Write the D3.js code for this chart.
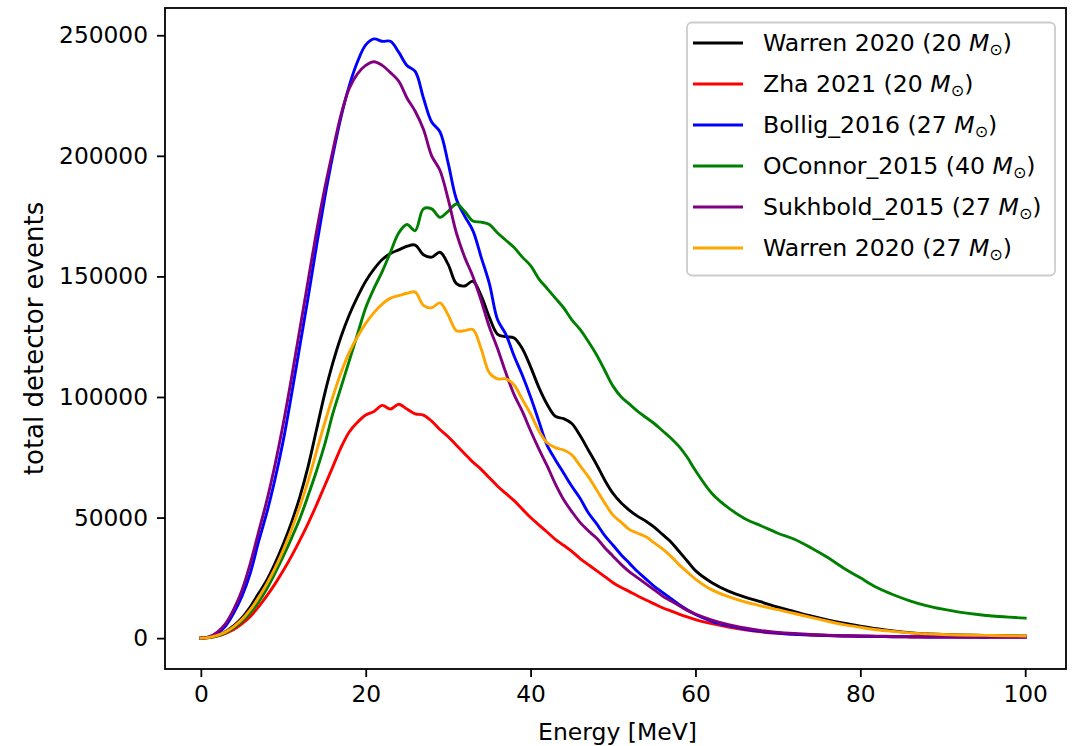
<!DOCTYPE html>
<html><head><meta charset="utf-8">
<script src="https://cdn.jsdelivr.net/npm/d3@7"></script>
<style>
body{margin:0;background:#fff;}
text{font-family:"DejaVu Sans",sans-serif;fill:#000;}
</style>
</head><body>
<svg id="chart" width="1076" height="746"></svg>
<script>
// Energy grid [MeV]
const energy = [0,1,2,3,4,5,6,7,8,9,10,11,12,13,14,15,16,17,18,19,20,21,22,23,24,25,26,27,28,29,30,
  31,32,33,34,35,36,37,38,39,40,41,42,43,44,45,46,47,48,49,50,51,52,53,54,55,56,57,58,59,60,
  62,64,66,68,70,72,74,76,78,80,82,84,86,88,90,92,94,96,98,100];

// total detector events, in thousands
const warren20 = [0,0.3,1.2,2.8,5.2,8.5,13,18.5,24,31,39,48,58.5,71,86,101,114,125,134,141.5,148,153,157,159.5,161,162.5,163,159,158,160,155,
  147,146,148,142,133,126,125,124.5,120,112.5,104,97,92,91,89,84,78,72,65.5,60,56,53,50.5,48.5,46,43,40,36,32,28,
  23,19.5,17,15,12.8,11,9.2,7.6,6.2,5,3.9,3,2.3,1.8,1.5,1.3,1.2,1.1,1,0.9];
const zha2021 = [0,0.2,0.8,2,3.6,6,9,13,17.5,22.5,28,34,40.5,47.5,55,63,71,79,85.5,89.5,92.5,94,96.5,95,97,95,93,92.5,90,86.5,83.5,
  80,76.5,73,70,66.5,63,60,57,53.5,50,47,44,41,38.5,36,33,30.5,28,25.5,23,21,19.3,17.5,15.8,14.2,12.6,11.3,10,8.8,7.7,
  6,4.6,3.5,2.6,2,1.6,1.3,1.1,0.9,0.8,0.7,0.6,0.5,0.5,0.45,0.4,0.4,0.4,0.4,0.4];
const bollig2016 = [0,0.5,2,5,10.5,17.5,27,40,52,66,82,101,121,141,162,182,200,216,229,239,246,248.5,247.5,247.5,243,237.5,235,224,214,210,197,
  182,175,169,158,147,132,126,117,109,100,90,80,74,68.5,63,58,52,47.5,42.5,38.5,34.5,31,27.5,24.5,21.5,19,16.5,14,11.8,9.8,
  7,5.2,3.8,2.8,2.1,1.6,1.3,1.1,0.9,0.8,0.7,0.6,0.55,0.5,0.5,0.45,0.4,0.4,0.4,0.4];
const oconnor2015 = [0,0.2,0.9,2.3,4.3,7,10.5,15,20.5,27,34,41.5,49.5,59,69,80,93,104,115,126,137,145,152,160,168,171.5,169,178,178,174.5,177,
  180,177,173,172.5,171.5,168,165,162,158,154.5,149,145,141,137,132,128,123,117.5,111,104.5,100,97,94,91.5,89,86,83,79.5,75,69.5,
  60,54,49.5,46.5,43.5,41,37.5,33.5,29,25,21,18,15.5,13.5,12,10.8,9.9,9.2,8.7,8.3];
const sukhbold2015 = [0,0.5,2.5,6,12,20,31,44,57,72,89,108,128,148,168,186,202,217,228,234,237.5,239,237.5,234.5,231,224,218.5,211,200,194,182,
  168,158,150,140,129,120,110,101,94,86,78.5,71.5,64,57.5,52.5,48,44.5,41.5,37.5,34,30.5,27.5,25,22.5,20,17.5,15.5,13.5,11.5,10,
  7.5,5.6,4.2,3.1,2.4,1.9,1.5,1.2,1,0.9,0.8,0.7,0.6,0.6,0.55,0.5,0.5,0.5,0.5,0.5];
const warren27 = [0,0.3,1.1,2.6,4.8,7.8,11.8,16.8,22.5,29,36.5,45,54.5,65,77,89,100,110,118.5,125,130.5,135,138.5,141,142,143,143.5,138,137,139,134,
  127.5,127.5,128,120,110,107.5,107.5,105,99,93,86,81,79,78,76,71.5,67,61.5,56,51,48,45,43.5,42,39.5,37,34,30.5,27.5,24.5,
  20,17.2,15,13.3,11.8,10.2,8.6,7,5.6,4.5,3.5,2.8,2.2,1.8,1.5,1.3,1.2,1.1,1,0.9];

const seriesValues = [warren20, zha2021, bollig2016, oconnor2015, sukhbold2015, warren27];
const seriesNames = ["Warren 2020 (20 ", "Zha 2021 (20 ", "Bollig_2016 (27 ", "OConnor_2015 (40 ", "Sukhbold_2015 (27 ", "Warren 2020 (27 "];
const seriesColors = ["#000000", "#ff0000", "#0000ff", "#008000", "#800080", "#ffa500"];

const xTicks = [0, 20, 40, 60, 80, 100];
const yTicks = [0, 50000, 100000, 150000, 200000, 250000];
const xLabel = "Energy [MeV]";
const yLabel = "total detector events";

const svg = d3.select("#chart");
const L = 165, R = 1066, T = 8, B = 669;
const x = d3.scaleLinear().domain([-4.35, 104.95]).range([L, R]);
const y = d3.scaleLinear().domain([-12800, 261300]).range([B, T]);

svg.append("rect").attr("width", 1076).attr("height", 746).attr("fill", "#fff");

// lines
const line = d3.line()
  .x((d, i) => x(energy[i]))
  .y(d => y(d * 1000))
  .curve(d3.curveCatmullRom.alpha(0.5));

seriesValues.forEach((vals, k) => {
  svg.append("path")
    .datum(vals)
    .attr("d", line)
    .attr("fill", "none")
    .attr("stroke", seriesColors[k])
    .attr("stroke-width", 2.9)
    .attr("stroke-linejoin", "round")
    .attr("stroke-linecap", "square");
});

// axes
const xAxis = svg.append("g").attr("transform", `translate(0,${B})`)
  .call(d3.axisBottom(x).tickValues(xTicks).tickFormat(d3.format("d")).tickSize(8).tickPadding(8));
const yAxis = svg.append("g").attr("transform", `translate(${L},0)`)
  .call(d3.axisLeft(y).tickValues(yTicks).tickFormat(d3.format("d")).tickSize(8).tickPadding(9));
[xAxis, yAxis].forEach(g => {
  g.select(".domain").remove();
  g.selectAll(".tick line").attr("stroke", "#000").attr("stroke-width", 1.8);
  g.selectAll(".tick text").attr("font-size", 23.3).attr("font-family", "DejaVu Sans").attr("fill", "#000");
});

// frame
svg.append("rect").attr("x", L).attr("y", T).attr("width", R - L).attr("height", B - T)
  .attr("fill", "none").attr("stroke", "#000").attr("stroke-width", 1.8);

// axis labels
svg.append("text").attr("x", (L + R) / 2 + 2).attr("y", 740).attr("text-anchor", "middle")
  .attr("font-size", 23.5).text(xLabel);
svg.append("text").attr("transform", `translate(43,${(T + B) / 2}) rotate(-90)`)
  .attr("text-anchor", "middle").attr("font-size", 26).text(yLabel);

// legend
const lg = svg.append("g");
lg.append("rect").attr("x", 687).attr("y", 22.5).attr("width", 368).attr("height", 253)
  .attr("rx", 5).attr("fill", "#fff").attr("fill-opacity", 0.8)
  .attr("stroke", "#cccccc").attr("stroke-width", 1.8);
seriesNames.forEach((name, k) => {
  const cy = 43 + k * 41;
  lg.append("line").attr("x1", 693).attr("x2", 743).attr("y1", cy).attr("y2", cy)
    .attr("stroke", seriesColors[k]).attr("stroke-width", 2.9);
  const t = lg.append("text").attr("x", 763).attr("y", cy).attr("dy", "0.36em").attr("font-size", 23.6);
  t.append("tspan").text(name);
  t.append("tspan").attr("font-style", "italic").text("M");
  t.append("tspan").attr("font-size", 16).attr("dy", "0.25em").text("\u2299");
  t.append("tspan").attr("dy", "-0.17em").text(")");
});
</script>
</body></html>
